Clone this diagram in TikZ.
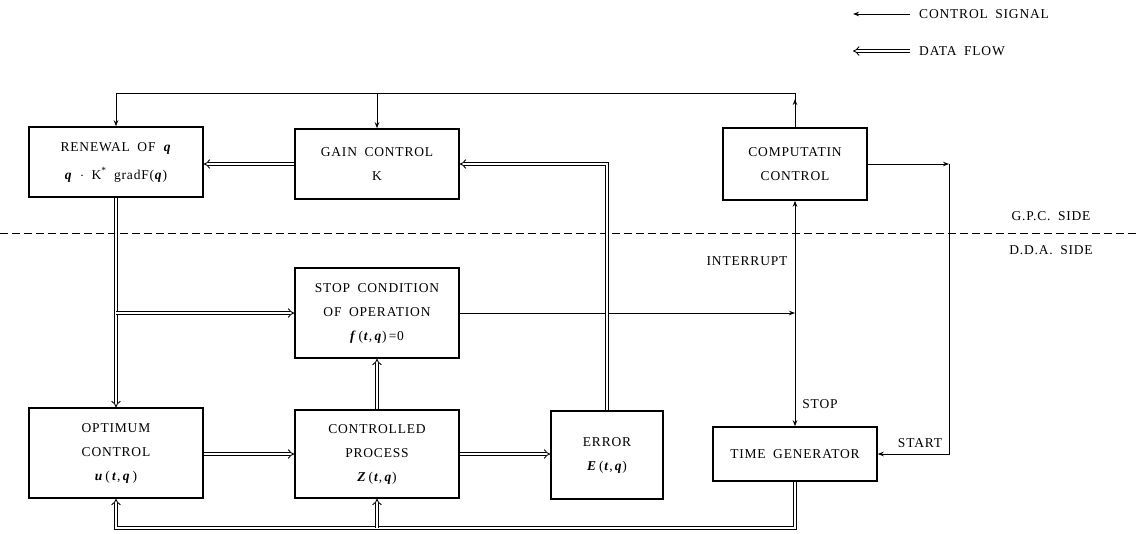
\documentclass[tikz,border=0pt]{standalone}
\usepackage{fontspec}
\setmainfont[LetterSpace=6,WordSpace=1.8]{Liberation Serif}
\usetikzlibrary{arrows.meta}
\newcommand{\bi}[1]{\textbf{\textit{#1}}}
\begin{document}
\begin{tikzpicture}[x=1pt,y=-1pt,
  every node/.style={font=\fontsize{13.5}{24}\selectfont},
  blk/.style={draw,line width=1.5pt,rectangle,align=center,inner sep=0pt},
  lbl/.style={inner sep=0pt,align=center},
  ctl/.style={line width=1pt,-{Stealth[length=6pt,width=4.5pt]}},
  data/.style={double,double distance=2.4pt,line width=0.85pt,-{Implies}},
]
\useasboundingbox (0,0) rectangle (1139,533);

% blocks
\node[blk,minimum width=174pt,minimum height=70pt] (ren) at (116,162)
  {RENEWAL OF \bi{q}\\[4pt]\bi{q} $\cdot$ K\textsuperscript{*} gradF(\bi{q})};
\node[blk,minimum width=164pt,minimum height=70pt] (gain) at (377,164)
  {GAIN CONTROL\\K};
\node[blk,minimum width=144pt,minimum height=72pt] (comp) at (795,164)
  {COMPUTATIN\\CONTROL};
\node[blk,minimum width=164pt,minimum height=90pt] (stop) at (377,313)
  {STOP CONDITION\\OF OPERATION\\\bi{f}\,(\bi{t},\,\bi{q})\,=0};
\node[blk,minimum width=174pt,minimum height=90pt] (opt) at (116,453)
  {OPTIMUM\\CONTROL\\\bi{u}\,(\,\bi{t},\,\bi{q}\,)};
\node[blk,minimum width=164pt,minimum height=88pt] (ctrl) at (377,454)
  {CONTROLLED\\PROCESS\\\bi{Z}\,(\bi{t},\,\bi{q})};
\node[blk,minimum width=112pt,minimum height=88pt] (err) at (607,455)
  {ERROR\\\bi{E}\,(\bi{t},\,\bi{q})};
\node[blk,minimum width=164pt,minimum height=54pt] (tg) at (795,454)
  {TIME GENERATOR};

% side divider
\draw[line width=0.9pt,dash pattern=on 8pt off 4pt] (0,233) -- (1139,233);
\node[lbl] (gpc) at (1051,216) {G.P.C. SIDE};
\node[lbl] (dda) at (1051,250) {D.D.A. SIDE};

% legend
\coordinate (lc1) at (910,14);
\coordinate (lc2) at (853,14);
\coordinate (ld1) at (910,51);
\coordinate (ld2) at (853,51);
\draw[ctl] (lc1) -- (lc2);
\draw[data] (ld1) -- (ld2);
\node[lbl,anchor=west] (lcs) at (919,14) {CONTROL SIGNAL};
\node[lbl,anchor=west] (ldf) at (919,51) {DATA FLOW};

% control signals
\coordinate (top) at (795,93);
\coordinate (topa) at (795,99);
\draw[line width=1pt] (comp.north) -- (top);
\draw[ctl] (comp.north) -- (topa);
\draw[ctl] (top) -| (ren.north);
\draw[ctl] (gain.north |- top) -- (gain.north);

\coordinate (j) at (795,313);
\draw[ctl] (stop.east) -- (j);
\draw[ctl] (j) -- (comp.south);
\draw[ctl] (j) -- (tg.north);
\node[lbl] (intr) at (747,261) {INTERRUPT};
\node[lbl] (stp) at (820,404) {STOP};

\coordinate (rc) at (949,164);
\draw[ctl] (comp.east) -- (rc);
\draw[ctl] (rc) |- (tg.east);
\node[lbl] (strt) at (920,443) {START};

% data flows
\draw[data] (gain.west) -- (gain.west -| ren.east);
\draw[data] (err.north) |- (gain.east);
\draw[data] (ren.south) -- (opt.north);
\draw[data] (stop.west -| ren.south) -- (stop.west);
\draw[data] (ctrl.west -| opt.east) -- (ctrl.west);
\draw[data] (ctrl.north) -- (stop.south);
\draw[data] (ctrl.east) -- (ctrl.east -| err.west);
\coordinate (bl) at (116,528);
\draw[data] (tg.south) |- (bl) -- (opt.south);
\draw[data] (ctrl.south |- bl) -- (ctrl.south);
\end{tikzpicture}
\end{document}
